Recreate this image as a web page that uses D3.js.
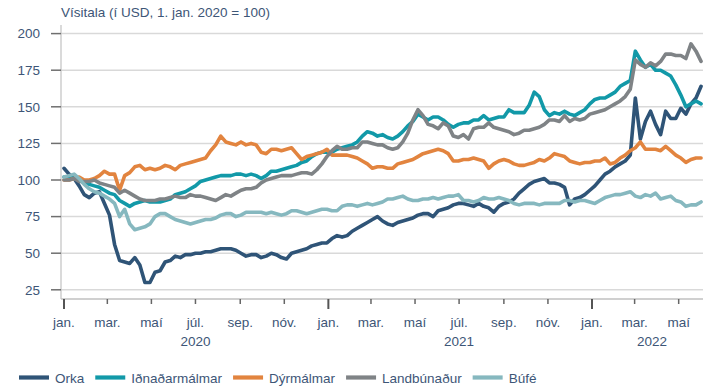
<!DOCTYPE html>
<html>
<head>
<meta charset="utf-8">
<script src="https://cdn.jsdelivr.net/npm/d3@7"></script>
<style>
  body { margin: 0; background: #fff; }
  svg text { font-family: "Liberation Sans", Arial, Helvetica, sans-serif; }
</style>
</head>
<body>
<svg id="chart" width="709" height="388"></svg>
<script>
// Weekly index values (USD, 1 Jan 2020 = 100), one value per week from 1 Jan 2020
const firstWeek = "2020-01-01";

const orka = [
  108, 104, 101, 96, 90, 88, 91, 92, 84, 76,
  56, 45, 44, 43, 47, 42, 30, 30, 37, 38,
  44, 45, 48, 47, 49, 49, 50, 50, 51, 51,
  52, 53, 53,
  53, 52, 50, 48, 49, 49, 47,
  48, 50, 49, 47, 46, 50, 51, 52, 53, 55,
  56, 57, 57, 60, 62, 61, 62, 65, 67, 69,
  71, 73, 75, 72, 70,
  69, 71, 72, 73, 74,
  76, 77, 77, 75, 79, 80, 81, 83, 84, 84,
  83, 82, 84, 82, 81, 78, 82, 84, 85, 87,
  91, 94, 97, 99, 100, 101, 98, 98,
  97, 95, 83, 87, 88, 90, 93, 96, 100, 104, 106, 109, 111, 113, 117,
  156, 128, 140, 147, 138, 131, 147, 142, 142, 149, 145, 152, 156, 164
];

const idnadarmalmar = [
  102, 102, 101, 100, 98, 97, 96, 95, 93, 91,
  90, 86, 84, 82, 84, 85, 86, 85, 85, 85,
  86, 87, 90, 91, 92, 94, 96, 99, 100, 101,
  102, 103, 103,
  103, 104, 104, 103, 104, 103, 101,
  103, 106, 106, 107, 108, 109, 110, 112, 113, 116,
  118, 119, 119, 119, 121, 122, 123, 124, 126, 130,
  133, 132, 130, 131, 129,
  128, 130, 133, 137, 140,
  145, 143, 141, 143, 143, 141, 138, 136, 138, 139,
  139, 141, 141, 144, 141, 142, 143, 143, 148, 146,
  146, 146, 151, 160, 157, 148, 144, 146,
  145, 147, 145, 144, 146, 148, 152, 155, 156, 156, 158, 160, 164, 166, 168,
  188, 182, 177, 179, 175, 175, 173, 171, 165, 158, 150, 152, 154, 152
];

const dyrmalmar = [
  100, 100, 101, 102, 100, 100, 101, 103, 106, 104,
  104, 93, 103, 105, 109, 110, 107, 108, 107, 108,
  110, 109, 107, 110, 111, 112, 113, 114, 115, 120,
  124, 130, 126,
  125, 124, 126, 124, 125, 124, 119,
  118, 121, 121, 120, 121, 122, 118, 114, 116, 117,
  118, 119, 121, 117, 117, 117, 117, 116, 115, 113,
  111, 108, 109, 109, 108,
  108, 111, 112, 113, 114,
  116, 118, 119, 120, 121, 120, 118, 113, 113, 114,
  114, 115, 114, 113, 108, 111, 113, 114, 113, 111,
  110, 110, 111, 112, 114, 113, 115, 118,
  117, 116, 113, 112, 111, 112, 112, 113, 113, 115, 111, 112, 115, 117, 120,
  122, 126, 121, 121, 121, 120, 123, 120, 117, 115, 112, 114, 115, 115
];

const landbunadur = [
  100, 100, 101, 99, 99, 99, 100, 98, 97, 96,
  95, 91, 93, 91, 89, 87, 86, 86, 86, 87,
  87, 88, 89, 88, 88, 90, 89, 89, 88, 87,
  86, 88, 90,
  89, 91, 93, 94, 94, 95, 98,
  100, 101, 102, 103, 103, 103, 104, 105, 105, 104,
  107, 111, 116, 120, 123, 121, 121, 122, 122, 126,
  126, 125, 124, 124, 122,
  121, 122, 126, 132, 141,
  148, 144, 138, 137, 135, 139, 137, 130, 129, 131,
  128, 135, 136, 136, 139, 136, 135, 134, 133, 131,
  132, 134, 134, 135, 136, 138, 141, 141,
  140, 144, 140, 142, 141, 142, 145, 146, 147, 148, 150, 152, 154, 157, 162,
  182, 179, 177, 180, 178, 181, 186, 186, 185, 185, 183, 193, 188, 181
];

const bufe = [
  102, 103, 104, 101, 97, 94, 92, 91, 89, 87,
  84, 75, 80, 70, 66, 67, 68, 70, 75, 77,
  77, 75, 73, 72, 71, 70, 71, 72, 73, 73,
  74, 76, 77,
  77, 75, 76, 78, 78, 78, 78,
  77, 78, 77, 76, 77, 79, 79, 78, 77, 78,
  79, 80, 80, 79, 79, 82, 83, 83, 82, 83,
  84, 83, 84, 85, 87,
  87, 88, 89, 87, 86,
  86, 87, 87, 88, 87, 88, 89, 89, 90, 86,
  86, 85, 86, 88, 87, 87, 88, 87, 86, 84,
  83, 84, 84, 84, 83, 84, 84, 84,
  84, 86, 86, 85, 86, 86, 85, 84, 86, 88, 89, 90, 90, 91, 92,
  89, 88, 90, 89, 91, 87, 88, 89, 86, 85, 82, 83, 83, 85
];

const seriesNames = ["Orka", "Iðnaðarmálmar", "Dýrmálmar", "Landbúnaður", "Búfé"];
const seriesColors = ["#2f5477", "#1299a8", "#e2843f", "#7f8386", "#86b8bf"];
const seriesValues = [orka, idnadarmalmar, dyrmalmar, landbunadur, bufe];

const yTicks = [25, 50, 75, 100, 125, 150, 175, 200];
const monthLabels = ["jan.", "mar.", "maí", "júl.", "sep.", "nóv."];
const yearLabels = ["2020", "2021", "2022"];
const yearLabelDates = ["2020-07-01", "2021-07-01", "2022-03-25"];
const title = "Vísitala (í USD, 1. jan. 2020 = 100)";

const textColor = "#3d5677";
const svg = d3.select("#chart");

const parse = d3.utcParse("%Y-%m-%d");
const start = parse(firstWeek);
const dates = orka.map((_, i) => d3.utcDay.offset(start, 7 * i));

const x = d3.scaleUtc()
  .domain([parse("2020-01-01"), parse("2022-01-01")])
  .range([64, 592]);
const y = d3.scaleLinear().domain([25, 200]).range([289.8, 33.6]);

const plotLeft = 61, plotRight = 703, axisY = 299;

// horizontal gridlines
svg.append("g")
  .selectAll("line")
  .data(yTicks)
  .join("line")
  .attr("x1", plotLeft).attr("x2", plotRight)
  .attr("y1", d => y(d)).attr("y2", d => y(d))
  .attr("stroke", "#d9d9d9").attr("stroke-width", 1.5);

// vertical axis line
svg.append("line")
  .attr("x1", plotLeft).attr("x2", plotLeft)
  .attr("y1", 25).attr("y2", axisY)
  .attr("stroke", "#c6c6c6").attr("stroke-width", 1.3);

// y ticks and labels
const yAxis = svg.append("g");
yAxis.selectAll("line")
  .data(yTicks)
  .join("line")
  .attr("x1", 51).attr("x2", plotLeft)
  .attr("y1", d => y(d)).attr("y2", d => y(d))
  .attr("stroke", "#6f6f6f").attr("stroke-width", 1.5);
yAxis.selectAll("text")
  .data(yTicks)
  .join("text")
  .attr("x", 40).attr("y", d => y(d))
  .attr("dy", "0.35em")
  .attr("text-anchor", "end")
  .attr("font-size", 13.5)
  .attr("fill", textColor)
  .text(d => d);

// bottom axis line
svg.append("line")
  .attr("x1", plotLeft).attr("x2", plotRight)
  .attr("y1", axisY).attr("y2", axisY)
  .attr("stroke", "#c0c0c0").attr("stroke-width", 1.5);

// x ticks every second month
const monthTicks = d3.utcMonth.every(2).range(parse("2020-01-01"), parse("2022-06-02"));
const xAxis = svg.append("g");
xAxis.selectAll("line")
  .data(monthTicks)
  .join("line")
  .attr("x1", d => x(d)).attr("x2", d => x(d))
  .attr("y1", axisY)
  .attr("y2", d => d.getUTCMonth() === 0 ? 309 : 304)
  .attr("stroke", d => d.getUTCMonth() === 0 ? "#555" : "#666")
  .attr("stroke-width", d => d.getUTCMonth() === 0 ? 2 : 1.5);
xAxis.selectAll("text.month")
  .data(monthTicks)
  .join("text")
  .attr("class", "month")
  .attr("x", d => x(d)).attr("y", 327)
  .attr("text-anchor", "middle")
  .attr("font-size", 13.5)
  .attr("fill", textColor)
  .text(d => monthLabels[d.getUTCMonth() / 2]);
xAxis.selectAll("text.year")
  .data(yearLabels)
  .join("text")
  .attr("class", "year")
  .attr("x", (d, i) => x(parse(yearLabelDates[i]))).attr("y", 346)
  .attr("text-anchor", "middle")
  .attr("font-size", 13.5)
  .attr("fill", textColor)
  .text(d => d);

// title
svg.append("text")
  .attr("x", 61).attr("y", 17)
  .attr("font-size", 13.5)
  .attr("fill", textColor)
  .text(title);

// series lines
const line = d3.line()
  .x((d, i) => x(dates[i]))
  .y(d => y(d))
  .curve(d3.curveLinear);

svg.append("g")
  .selectAll("path")
  .data(seriesValues)
  .join("path")
  .attr("d", d => line(d))
  .attr("fill", "none")
  .attr("stroke", (d, i) => seriesColors[i])
  .attr("stroke-width", 3.6)
  .attr("stroke-linejoin", "round")
  .attr("stroke-linecap", "round");

// legend
const legend = svg.append("g");
let lx = 19;
seriesNames.forEach((name, i) => {
  legend.append("line")
    .attr("x1", lx).attr("x2", lx + 30)
    .attr("y1", 377.5).attr("y2", 377.5)
    .attr("stroke", seriesColors[i]).attr("stroke-width", 4.2);
  const t = legend.append("text")
    .attr("x", lx + 36).attr("y", 382.5)
    .attr("font-size", 13.5)
    .attr("fill", textColor)
    .text(name);
  lx += 36 + t.node().getComputedTextLength() + 11;
});
</script>
</body>
</html>
